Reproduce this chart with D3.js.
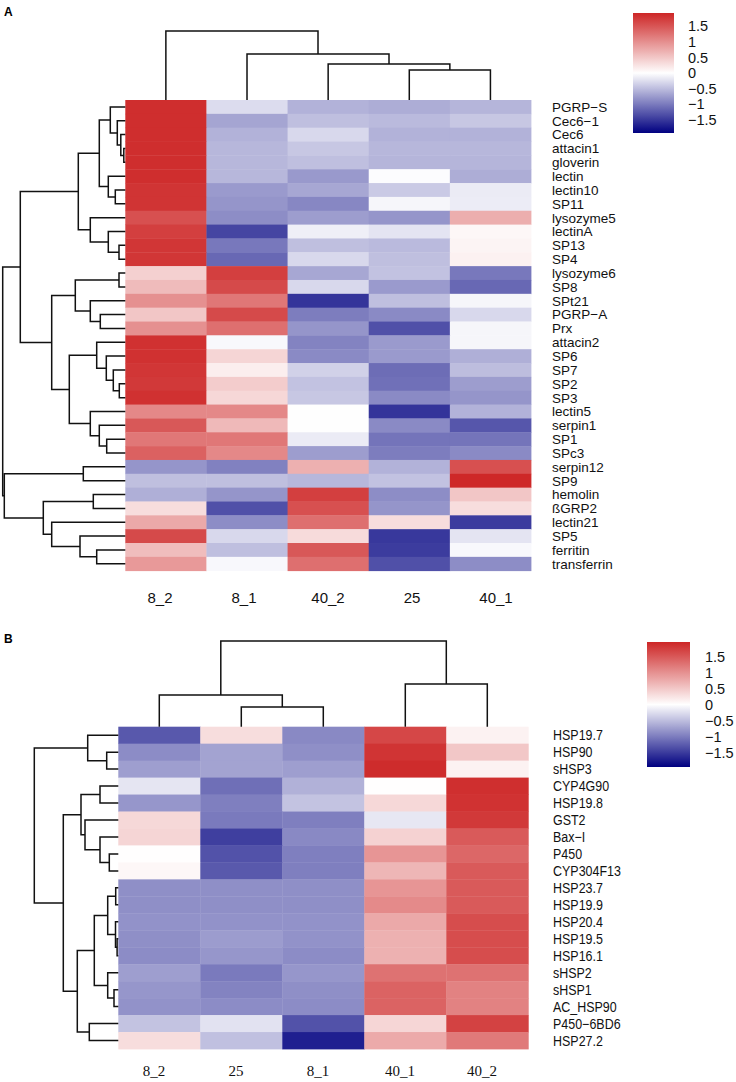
<!DOCTYPE html>
<html>
<head>
<meta charset="utf-8">
<script src="https://cdn.jsdelivr.net/npm/d3@7"></script>
<style>
  body { margin: 0; background: #fff; }
  svg { display: block; font-family: "Liberation Sans", Arial, sans-serif; }
</style>
</head>
<body>
<svg id="chart" width="736" height="1082"></svg>
<script>
// ---- panel A data ----
var colsA = ["8_2", "8_1", "40_2", "25", "40_1"];
var rowsA = ["PGRP\u2212S", "Cec6\u22121", "Cec6", "attacin1", "gloverin", "lectin", "lectin10", "SP11",
    "lysozyme5", "lectinA", "SP13", "SP4", "lysozyme6", "SP8", "SPt21", "PGRP\u2212A", "Prx", "attacin2",
    "SP6", "SP7", "SP2", "SP3", "lectin5", "serpin1", "SP1", "SPc3", "serpin12", "SP9", "hemolin",
    "\u00dfGRP2", "lectin21", "SP5", "ferritin", "transferrin"];
var valuesA = [
    [1.85, -0.26, -0.58, -0.62, -0.56],
    [1.85, -0.68, -0.48, -0.52, -0.42],
    [1.85, -0.58, -0.29, -0.58, -0.58],
    [1.85, -0.54, -0.42, -0.54, -0.54],
    [1.85, -0.54, -0.48, -0.56, -0.56],
    [1.85, -0.54, -0.77, -0.02, -0.62],
    [1.80, -0.76, -0.66, -0.40, -0.15],
    [1.80, -0.80, -0.90, -0.07, -0.14],
    [1.55, -0.86, -0.74, -0.80, 0.72],
    [1.70, -1.40, -0.12, -0.20, 0.07],
    [1.78, -1.02, -0.48, -0.52, 0.10],
    [1.78, -1.14, -0.29, -0.48, 0.12],
    [0.42, 1.70, -0.66, -0.46, -1.02],
    [0.60, 1.60, -0.29, -0.76, -1.14],
    [0.98, 1.20, -1.53, -0.48, -0.07],
    [0.50, 1.60, -0.98, -0.88, -0.29],
    [0.98, 1.27, -0.80, -1.32, -0.07],
    [1.82, -0.05, -0.93, -0.76, -0.07],
    [1.82, 0.37, -0.88, -0.76, -0.60],
    [1.78, 0.15, -0.35, -1.10, -0.50],
    [1.75, 0.45, -0.46, -1.08, -0.74],
    [1.82, 0.35, -0.42, -0.88, -0.80],
    [1.05, 1.05, -0.01, -1.53, -0.58],
    [1.48, 0.62, -0.01, -0.88, -1.27],
    [1.20, 1.20, -0.15, -1.05, -1.05],
    [1.40, 1.05, -0.74, -0.98, -0.88],
    [-0.80, -0.95, 0.70, -0.58, 1.55],
    [-0.48, -0.48, -0.54, -0.46, 1.90],
    [-0.60, -0.80, 1.70, -0.86, 0.50],
    [0.30, -1.32, 1.55, -0.80, 0.30],
    [0.76, -0.86, 1.27, 0.30, -1.47],
    [1.60, -0.29, 0.32, -1.50, -0.20],
    [0.58, -0.48, 1.48, -1.47, -0.05],
    [0.90, -0.05, 1.27, -1.32, -0.86]
];
// hclust-style merges: negative = leaf (1-based display order), positive = earlier merge
var rowMergeA = [
    [-4, -5, 1.5], [-3, 1, 4.5], [-2, 2, 8], [-1, 3, 15],
    [-7, -8, 10], [-6, 5, 17], [4, 6, 26],
    [-11, -12, 6.3], [-10, 8, 17], [-9, 9, 35], [7, 10, 47],
    [-13, -14, 6.3], [-16, -17, 25], [-15, 13, 35], [12, 14, 50],
    [-21, -22, 6], [-20, 16, 12], [-19, 17, 19], [-18, 18, 28.6],
    [-25, -26, 18.6], [-24, 20, 26], [-23, 21, 35], [19, 22, 56],
    [15, 23, 73.6], [11, 24, 105],
    [-27, -28, 42], [-29, -30, 32], [-33, -34, 28.6], [-32, 28, 45.3],
    [-31, 29, 73.6], [27, 30, 82], [26, 31, 121], [25, 32, 122.6]
];
var colMergeA = [[-4, -5, 30], [-3, 1, 36], [-2, 2, 46], [-1, 3, 69]];

// ---- panel B data ----
var colsB = ["8_2", "25", "8_1", "40_1", "40_2"];
var rowsB = ["HSP19.7", "HSP90", "sHSP3", "CYP4G90", "HSP19.8", "GST2", "Bax\u2212I", "P450", "CYP304F13",
    "HSP23.7", "HSP19.9", "HSP20.4", "HSP19.5", "HSP16.1", "sHSP2", "sHSP1", "AC_HSP90",
    "P450\u22126BD6", "HSP27.2"];
var valuesB = [
    [-1.28, 0.31, -0.90, 1.65, 0.12],
    [-0.88, -0.70, -0.86, 1.82, 0.50],
    [-0.74, -0.70, -0.74, 1.90, 0.12],
    [-0.20, -1.10, -0.60, 0.01, 1.87],
    [-0.80, -0.98, -0.46, 0.35, 1.84],
    [0.35, -1.02, -0.98, -0.18, 1.78],
    [0.38, -1.47, -0.90, 0.40, 1.48],
    [0.01, -1.32, -0.98, 0.95, 1.37],
    [0.07, -1.27, -0.98, 0.66, 1.48],
    [-0.86, -0.86, -0.86, 0.95, 1.48],
    [-0.86, -0.86, -0.86, 1.05, 1.48],
    [-0.83, -0.83, -0.83, 0.77, 1.60],
    [-0.86, -0.76, -0.83, 0.70, 1.60],
    [-0.88, -0.80, -0.88, 0.70, 1.60],
    [-0.74, -1.02, -0.80, 1.27, 1.27],
    [-0.80, -0.95, -0.86, 1.40, 1.12],
    [-0.83, -0.88, -0.88, 1.40, 1.12],
    [-0.46, -0.22, -1.32, 0.37, 1.70],
    [0.31, -0.48, -1.71, 0.76, 1.20]
];
var rowMergeB = [
    [-2, -3, 11.6], [-1, 1, 30.6],
    [-4, -5, 18.3], [-8, -9, 9], [-7, 4, 18.3], [-6, 5, 33.3], [3, 6, 37.3],
    [-10, -11, 2.6], [-13, -14, 1.2], [-12, 9, 2.8], [8, 10, 10.6],
    [-16, -17, 4.3], [-15, 12, 10.6], [11, 13, 24],
    [-18, -19, 29], [14, 15, 41], [7, 16, 55], [2, 17, 84]
];
var colMergeB = [[-2, -3, 19.7], [-1, 1, 31.7], [-4, -5, 42.7], [2, 3, 85.7]];

var legendTicks = [1.5, 1, 0.5, 0, -0.5, -1, -1.5];

// ---- layout of each panel ----
var panels = [
    {tag: "A", tagY: 16, rows: rowsA, cols: colsA, values: valuesA, rowMerge: rowMergeA, colMerge: colMergeA,
     left: 125.3, right: 531, top: 100, bottom: 570.7, rowRoot: 2.7, colRoot: 31,
     rowLabelX: 552, rowFont: 13.5, rowScaleX: 1,
     colLabelRange: [160, 496], colLabelY: 603, colFont: "15px 'Liberation Sans', Arial, sans-serif",
     lim: 1.92, bar: {x: 633, w: 41, top: 13, bottom: 133}, barLabelX: 688},
    {tag: "B", tagY: 643, rows: rowsB, cols: colsB, values: valuesB, rowMerge: rowMergeB, colMerge: colMergeB,
     left: 118.3, right: 528.3, top: 726.7, bottom: 1049, rowRoot: 34.3, colRoot: 641,
     rowLabelX: 553, rowFont: 14.5, rowScaleX: 0.86,
     colLabelRange: [154, 482], colLabelY: 1076, colFont: "15px 'Liberation Serif', 'Times New Roman', serif",
     lim: 1.95, bar: {x: 647, w: 43, top: 642, bottom: 767}, barLabelX: 705}
];

var svg = d3.select("#chart");

// builds one path per merge: a U shape from both children up to the merge height
function dendroPaths(merge, leafPos) {
    var nodes = [];
    var out = [];
    function get(k) { return k < 0 ? {p: leafPos(-k - 1), h: 0} : nodes[k - 1]; }
    merge.forEach(function(m) {
        var a = get(m[0]), b = get(m[1]);
        out.push({a: a, b: b, h: m[2]});
        nodes.push({p: (a.p + b.p) / 2, h: m[2]});
    });
    return out;
}

panels.forEach(function(P, pi) {
    var g = svg.append("g").attr("class", "panel-" + P.tag);

    var x = d3.scaleBand().domain(P.cols).range([P.left, P.right]);
    var y = d3.scaleBand().domain(P.rows).range([P.top, P.bottom]);
    var color = d3.scaleLinear()
        .domain([-P.lim, 0, P.lim])
        .range(["#000080", "#ffffff", "#CD2626"])
        .clamp(true);

    var cells = [];
    P.values.forEach(function(row, i) {
        row.forEach(function(v, j) {
            cells.push({r: P.rows[i], c: P.cols[j], v: v});
        });
    });

    g.append("g").selectAll("rect").data(cells).enter().append("rect")
        .attr("x", function(d) { return x(d.c); })
        .attr("y", function(d) { return y(d.r); })
        .attr("width", x.bandwidth() + 0.4)
        .attr("height", y.bandwidth() + 0.4)
        .attr("fill", function(d) { return color(d.v); });

    // row dendrogram
    var rowMax = P.rowMerge[P.rowMerge.length - 1][2];
    var hx = d3.scaleLinear().domain([0, rowMax]).range([P.left, P.rowRoot]);
    var rowLinks = dendroPaths(P.rowMerge, function(i) { return y(P.rows[i]) + y.bandwidth() / 2; });
    g.append("g").selectAll("path").data(rowLinks).enter().append("path")
        .attr("d", function(d) {
            return "M" + hx(d.a.h) + "," + d.a.p + "H" + hx(d.h) + "V" + d.b.p + "H" + hx(d.b.h);
        })
        .attr("fill", "none").attr("stroke", "#111").attr("stroke-width", 1.5);

    // column dendrogram
    var colMax = P.colMerge[P.colMerge.length - 1][2];
    var hy = d3.scaleLinear().domain([0, colMax]).range([P.top, P.colRoot]);
    var colLinks = dendroPaths(P.colMerge, function(i) { return x(P.cols[i]) + x.bandwidth() / 2; });
    g.append("g").selectAll("path").data(colLinks).enter().append("path")
        .attr("d", function(d) {
            return "M" + d.a.p + "," + hy(d.a.h) + "V" + hy(d.h) + "H" + d.b.p + "V" + hy(d.b.h);
        })
        .attr("fill", "none").attr("stroke", "#111").attr("stroke-width", 1.5);

    // row labels
    g.append("g").selectAll("text").data(P.rows).enter().append("text")
        .attr("transform", function(d) {
            return "translate(" + P.rowLabelX + "," + (y(d) + y.bandwidth() / 2) + ") scale(" + P.rowScaleX + ",1)";
        })
        .attr("dy", "0.36em")
        .style("font-size", P.rowFont + "px")
        .attr("fill", "#111")
        .text(function(d) { return d; });

    // column labels
    var xl = d3.scalePoint().domain(P.cols).range(P.colLabelRange);
    g.append("g").selectAll("text").data(P.cols).enter().append("text")
        .attr("x", function(d) { return xl(d); })
        .attr("y", P.colLabelY)
        .attr("text-anchor", "middle")
        .style("font", P.colFont)
        .attr("fill", "#111")
        .text(function(d) { return d; });

    // colour key
    var gradId = "grad" + P.tag;
    var grad = svg.append("defs").append("linearGradient")
        .attr("id", gradId).attr("x1", 0).attr("y1", 1).attr("x2", 0).attr("y2", 0);
    d3.range(0, 1.0001, 0.05).forEach(function(t) {
        grad.append("stop").attr("offset", t)
            .attr("stop-color", color(-P.lim + 2 * P.lim * t));
    });
    g.append("rect")
        .attr("x", P.bar.x).attr("y", P.bar.top)
        .attr("width", P.bar.w).attr("height", P.bar.bottom - P.bar.top)
        .attr("fill", "url(#" + gradId + ")");
    var ly = d3.scaleLinear().domain([-P.lim, P.lim]).range([P.bar.bottom, P.bar.top]);
    g.append("g").selectAll("text").data(legendTicks).enter().append("text")
        .attr("x", P.barLabelX)
        .attr("y", function(d) { return ly(d); })
        .attr("dy", "0.36em")
        .style("font-size", "14.5px")
        .attr("fill", "#111")
        .text(function(d) { return d < 0 ? "\u2212" + Math.abs(d) : String(d); });

    // panel letter
    g.append("text")
        .attr("x", 4).attr("y", P.tagY)
        .style("font-size", "12px").style("font-weight", "bold")
        .text(P.tag);
});
</script>
</body>
</html>
